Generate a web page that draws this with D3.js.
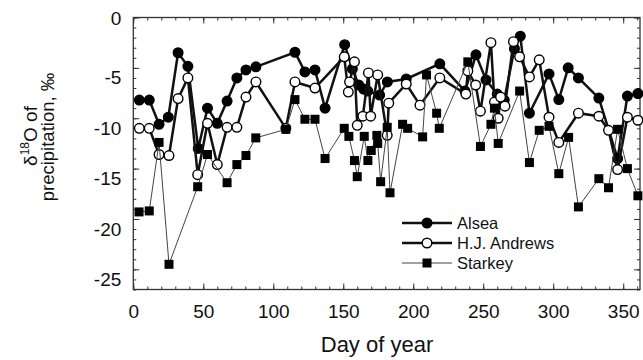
<!DOCTYPE html>
<html>
<head>
<meta charset="utf-8">
<script src="https://cdn.jsdelivr.net/npm/d3@7"></script>
<style>
  body { margin: 0; background: #fff; }
  text { font-family: "Liberation Sans", Arial, sans-serif; fill: #111; }
</style>
</head>
<body>
<div id="chart"></div>
<script>
// day of year / d18O values
const alseaDay = [4.3, 11.4, 18.4, 25, 32, 39, 46.4, 53, 60, 67, 74, 80.5, 87.6, 115.5, 122.6, 129.8, 137, 151, 156.5, 161, 164.5, 167.5, 176, 181.5, 195, 219, 237, 244.8, 252, 260, 265, 272.3, 276.5, 283, 297, 304, 310.7, 318, 332.6, 346, 353, 360.5];
const alseaVal = [-8.2, -8.2, -10.6, -9.9, -3.5, -4.85, -13.0, -9.0, -10.5, -8.3, -6.0, -5.2, -4.9, -3.45, -5.4, -5.2, -9.0, -2.7, -5.1, -6.7, -7.1, -7.3, -7.7, -6.4, -6.1, -4.6, -7.3, -3.7, -6.2, -7.6, -8.2, -3.1, -1.85, -9.5, -5.6, -8.15, -5.0, -6.0, -8.0, -14.0, -7.8, -7.55];

const andrewsDay = [4.3, 11.4, 18.4, 25.5, 32, 39, 46, 53, 60, 67, 74, 80.5, 87.6, 109, 115.5, 129.8, 150.7, 153.6, 154.5, 158, 160, 164, 168, 169.6, 174.6, 181.4, 182.5, 195, 204.8, 219, 237.6, 239, 244.6, 248, 255.5, 258, 260.7, 262.4, 265.5, 271.6, 276, 283, 290, 297, 304, 318, 332.6, 339.5, 346, 353, 360.5];
const andrewsVal = [-11.0, -11.0, -13.6, -13.7, -8.05, -6.0, -15.6, -10.5, -14.6, -10.9, -10.9, -7.9, -6.4, -11.0, -6.4, -7.0, -3.9, -7.4, -6.4, -4.4, -10.7, -9.8, -5.5, -9.8, -5.7, -11.7, -8.5, -6.6, -8.7, -6.0, -7.6, -5.3, -6.7, -9.3, -2.5, -8.4, -10.0, -7.9, -8.8, -2.4, -3.9, -5.9, -4.2, -9.9, -12.4, -9.5, -9.8, -11.2, -15.1, -9.9, -10.2];

const starkeyDay = [4.1, 11.4, 18.4, 25.5, 46, 53, 67, 74, 80.5, 87.5, 109, 115.5, 122.6, 129.8, 137, 150.7, 154, 158, 160, 165, 167.6, 170, 174, 174.6, 176.7, 181.4, 183.4, 192.4, 196, 206.7, 209.5, 216.7, 218.6, 239, 248, 255.5, 258, 260.7, 276, 283, 290, 297, 304, 311, 318, 332.6, 339.5, 346, 353, 360.5];
const starkeyVal = [-19.3, -19.2, -12.4, -24.5, -16.8, -13.6, -16.4, -14.6, -13.7, -11.95, -11.1, -8.15, -10.1, -10.1, -14.0, -11.0, -11.8, -14.2, -15.8, -11.8, -14.2, -13.2, -11.7, -12.5, -16.3, -10.9, -17.4, -10.6, -11.0, -11.85, -5.7, -9.5, -11.0, -4.4, -12.8, -10.6, -9.0, -12.5, -7.3, -14.4, -11.2, -10.8, -15.5, -11.9, -18.8, -16.0, -16.9, -11.1, -15.0, -17.7];

const seriesNames = ["Alsea", "H.J. Andrews", "Starkey"];
const xTicks = [0, 50, 100, 150, 200, 250, 300, 350];
const yTicks = [0, -5, -10, -15, -20, -25];

const W = 643, H = 360;
const margin = { top: 17.5, right: 3, bottom: 70.5, left: 133.3 };
const width = W - margin.left - margin.right,
      height = H - margin.top - margin.bottom;

const svg = d3.select("#chart").append("svg")
  .attr("width", W)
  .attr("height", H);

const x = d3.scaleLinear().domain([0, 362]).range([margin.left, margin.left + width]);
const y = d3.scaleLinear().domain([-27, 0]).range([margin.top + height, margin.top]);

const zip = (days, vals) => days.map((d, i) => ({ day: d, val: vals[i] }));
const series = [
  { name: seriesNames[0], data: zip(alseaDay, alseaVal), shape: "dot", lw: 2.5, stroke: "#111" },
  { name: seriesNames[1], data: zip(andrewsDay, andrewsVal), shape: "ring", lw: 2.5, stroke: "#111" },
  { name: seriesNames[2], data: zip(starkeyDay, starkeyVal), shape: "square", lw: 1, stroke: "#444" }
];

// ticks, all pointing inward
const axisStyle = g => {
  g.select(".domain").remove();
  g.selectAll(".tick line").attr("stroke", "#333").attr("stroke-width", 1);
};
const minorX = d3.range(0, 361, 10), minorY = d3.range(-27, 0.1, 1);

svg.append("g").attr("transform", `translate(0,${y(-27)})`)
  .call(d3.axisBottom(x).tickValues(minorX).tickSize(-3).tickFormat(""))
  .call(axisStyle);
svg.append("g").attr("transform", `translate(0,${y(0)})`)
  .call(d3.axisTop(x).tickValues(minorX).tickSize(-3).tickFormat(""))
  .call(axisStyle);
svg.append("g").attr("transform", `translate(0,${y(0)})`)
  .call(d3.axisTop(x).tickValues(xTicks).tickSize(-6).tickFormat(""))
  .call(axisStyle);
svg.append("g").attr("transform", `translate(${x(0)},0)`)
  .call(d3.axisLeft(y).tickValues(minorY).tickSize(-3).tickFormat(""))
  .call(axisStyle);
svg.append("g").attr("transform", `translate(${x(362)},0)`)
  .call(d3.axisRight(y).tickValues(minorY).tickSize(-3).tickFormat(""))
  .call(axisStyle);
svg.append("g").attr("transform", `translate(${x(362)},0)`)
  .call(d3.axisRight(y).tickValues(yTicks).tickSize(-6).tickFormat(""))
  .call(axisStyle);

svg.append("g").attr("transform", `translate(0,${y(-27)})`)
  .call(d3.axisBottom(x).tickValues(xTicks).tickSize(-6).tickPadding(15))
  .call(axisStyle)
  .call(g => g.selectAll(".tick text").attr("font-size", 19).attr("fill", "#111"));

// plain hyphen minus like the original figure
svg.append("g").attr("transform", `translate(${x(0)},0)`)
  .call(d3.axisLeft(y).tickValues(yTicks).tickSize(-6).tickPadding(12).tickFormat(d => String(d)))
  .call(axisStyle)
  .call(g => g.selectAll(".tick text")
    .attr("font-size", 19).attr("fill", "#111")
    .attr("transform", d => `translate(0,${d === 0 ? 1 : 10})`));

// frame
svg.append("rect")
  .attr("x", x(0)).attr("y", y(0))
  .attr("width", x(362) - x(0)).attr("height", y(-27) - y(0))
  .attr("fill", "none").attr("stroke", "#333").attr("stroke-width", 1.3);

const line = d3.line().x(d => x(d.day)).y(d => y(d.val));

function drawMarkers(g, data, s) {
  if (s.shape === "square") {
    g.selectAll("rect").data(data).join("rect")
      .attr("x", d => x(d.day) - 4.5).attr("y", d => y(d.val) - 4.5)
      .attr("width", 9).attr("height", 9).attr("fill", "#000");
  } else {
    g.selectAll("circle").data(data).join("circle")
      .attr("cx", d => x(d.day)).attr("cy", d => y(d.val)).attr("r", 4.8)
      .attr("fill", s.shape === "dot" ? "#000" : "#fff")
      .attr("stroke", "#000").attr("stroke-width", 1.4);
  }
}

series.forEach(s => {
  const g = svg.append("g");
  g.append("path").datum(s.data)
    .attr("d", line).attr("fill", "none")
    .attr("stroke", s.stroke).attr("stroke-width", s.lw);
  drawMarkers(g, s.data, s);
});

// legend
const legY = [223, 243, 263];
series.forEach((s, i) => {
  const g = svg.append("g").attr("transform", `translate(0,${legY[i]})`);
  g.append("line").attr("x1", 402).attr("x2", 452).attr("y1", 0).attr("y2", 0)
    .attr("stroke", s.stroke).attr("stroke-width", s.lw);
  drawMarkers(g, [{ day: x.invert(427), val: y.invert(legY[i]) }], s);
  g.selectAll("rect,circle").attr("transform", `translate(0,${-legY[i]})`);
  g.append("text").attr("x", 457).attr("y", 0).attr("dy", "0.36em")
    .attr("font-size", 16.5).text(s.name);
});

// axis titles
svg.append("text")
  .attr("x", 377).attr("y", 352)
  .attr("text-anchor", "middle").attr("font-size", 22)
  .text("Day of year");

const yt = svg.append("text")
  .attr("transform", "translate(37,136) rotate(-90)")
  .attr("text-anchor", "middle").attr("font-size", 19);
yt.append("tspan").text("δ");
yt.append("tspan").attr("font-size", 12).attr("dy", -8).text("18");
yt.append("tspan").attr("dy", 8).text("O of");

svg.append("text")
  .attr("transform", "translate(54,137) rotate(-90)")
  .attr("text-anchor", "middle").attr("font-size", 18.5)
  .text("precipitation, ‰");
</script>
</body>
</html>
